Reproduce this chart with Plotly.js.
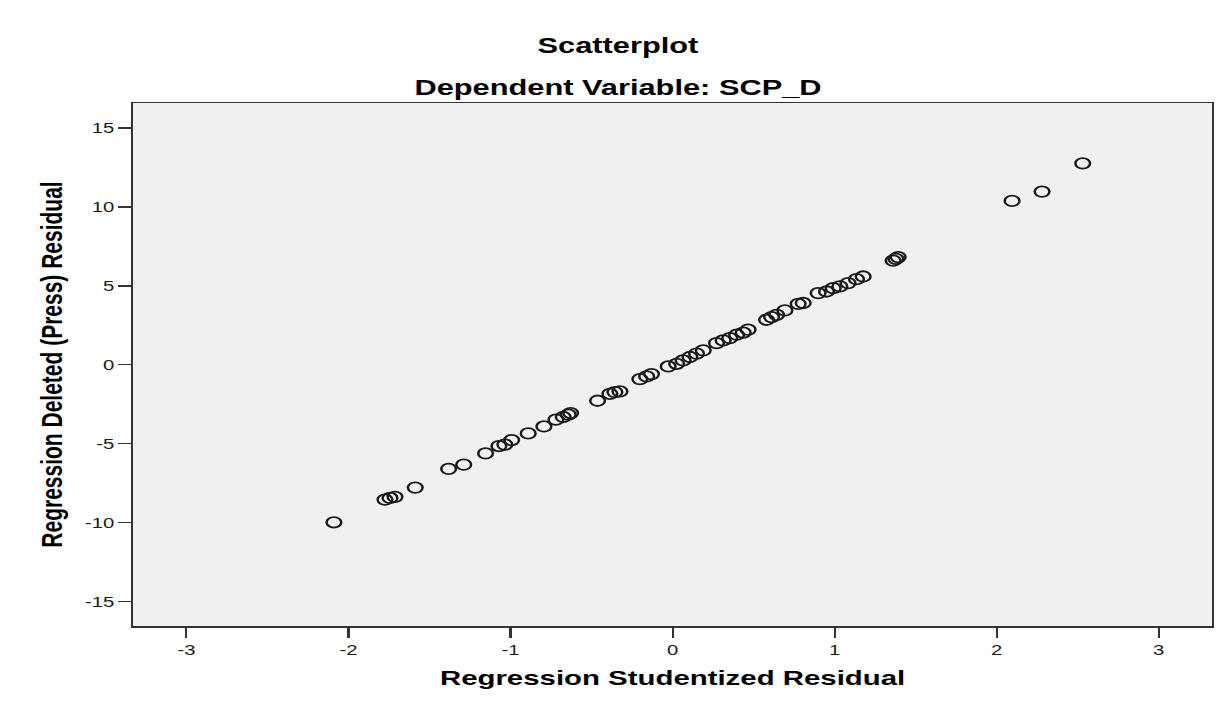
<!DOCTYPE html>
<html>
<head>
<meta charset="utf-8">
<script src="https://cdn.plot.ly/plotly-3.0.1.min.js"></script>
<style>
html, body { margin: 0; padding: 0; background: #ffffff; overflow: hidden; }
#wrap { width: 1222px; height: 704px; overflow: hidden; }
#chart { width: 873px; height: 704px; transform: scaleX(1.39977); transform-origin: 0 0; }
</style>
</head>
<body>
<div id="wrap"><div id="chart"></div></div>
<script>
// Regression Studentized Residual (x) vs Regression Deleted (Press) Residual (y)
const studentizedResidual = [
  -2.09, -1.775, -1.744, -1.713, -1.588, -1.382, -1.289, -1.154, -1.072, -1.035,
  -0.993, -0.891, -0.794, -0.720, -0.675, -0.644, -0.629, -0.463, -0.387, -0.356,
  -0.325, -0.202, -0.160, -0.130, -0.027, 0.025, 0.065, 0.107, 0.148, 0.189,
  0.271, 0.312, 0.353, 0.395, 0.436, 0.466, 0.580, 0.611, 0.642, 0.693,
  0.775, 0.806, 0.898, 0.950, 0.991, 1.032, 1.083, 1.135, 1.176, 1.361,
  1.378, 1.392, 2.095, 2.280, 2.531
];
const deletedResidual = [
  -9.98, -8.54, -8.44, -8.37, -7.78, -6.60, -6.33, -5.61, -5.15, -5.06,
  -4.77, -4.35, -3.91, -3.48, -3.31, -3.16, -3.06, -2.28, -1.84, -1.73,
  -1.69, -0.91, -0.74, -0.59, -0.11, 0.06, 0.27, 0.49, 0.70, 0.91,
  1.37, 1.54, 1.69, 1.90, 2.04, 2.22, 2.85, 3.02, 3.16, 3.44,
  3.86, 3.91, 4.54, 4.64, 4.85, 4.96, 5.17, 5.42, 5.59, 6.60,
  6.71, 6.82, 10.38, 10.97, 12.76
];
const xTicks = [-3, -2, -1, 0, 1, 2, 3];
const yTicks = [-15, -10, -5, 0, 5, 10, 15];
const chartTitle = "Scatterplot";
const chartSubtitle = "Dependent Variable: SCP_D";
const xTitle = "Regression Studentized Residual";
const yTitle = "Regression Deleted (Press) Residual";

const FONT = "Liberation Sans, Arial, sans-serif";

const trace = {
  type: "scatter",
  mode: "markers",
  x: studentizedResidual,
  y: deletedResidual,
  marker: {
    symbol: "circle-open",
    size: 10.5,
    color: "#1a1a1a",
    line: { width: 1.8, color: "#1a1a1a" }
  },
  hoverinfo: "x+y"
};

const layout = {
  width: 873,
  height: 704,
  margin: { l: 95, r: 7, t: 103, b: 78, pad: 0 },
  paper_bgcolor: "#ffffff",
  plot_bgcolor: "#f0f0f0",
  showlegend: false,
  font: { family: FONT, color: "#222" },
  xaxis: {
    range: [-3.33, 3.33],
    tickmode: "array",
    tickvals: xTicks,
    ticktext: xTicks.map(String),
    ticks: "outside",
    ticklen: 10,
    tickwidth: 1.5,
    tickcolor: "#333",
    showline: true,
    linecolor: "#333",
    linewidth: 1.5,
    mirror: true,
    showgrid: false,
    zeroline: false,
    tickfont: { family: FONT, size: 14.5, color: "#1a1a1a" },
    title: { text: xTitle, font: { family: FONT, size: 21, color: "#000", weight: "bold" }, standoff: 13 }
  },
  yaxis: {
    range: [-16.55, 16.58],
    tickmode: "array",
    tickvals: yTicks,
    ticktext: yTicks.map(String),
    ticks: "outside",
    ticklen: 9,
    tickwidth: 1.5,
    tickcolor: "#333",
    showline: true,
    linecolor: "#333",
    linewidth: 1.5,
    mirror: true,
    showgrid: false,
    zeroline: false,
    tickfont: { family: FONT, size: 14.5, color: "#1a1a1a" },
    title: { text: yTitle, font: { family: FONT, size: 21, color: "#000", weight: "bold" }, standoff: 10 }
  },
  annotations: [
    { text: chartTitle, xref: "paper", yref: "paper", x: 0.45, y: 1.109, xanchor: "center", yanchor: "middle",
      showarrow: false, font: { family: FONT, size: 22, color: "#000", weight: "bold" } },
    { text: chartSubtitle, xref: "paper", yref: "paper", x: 0.45, y: 1.029, xanchor: "center", yanchor: "middle",
      showarrow: false, font: { family: FONT, size: 22, color: "#000", weight: "bold" } }
  ]
};

Plotly.newPlot("chart", [trace], layout, { staticPlot: true, displayModeBar: false });
</script>
</body>
</html>
